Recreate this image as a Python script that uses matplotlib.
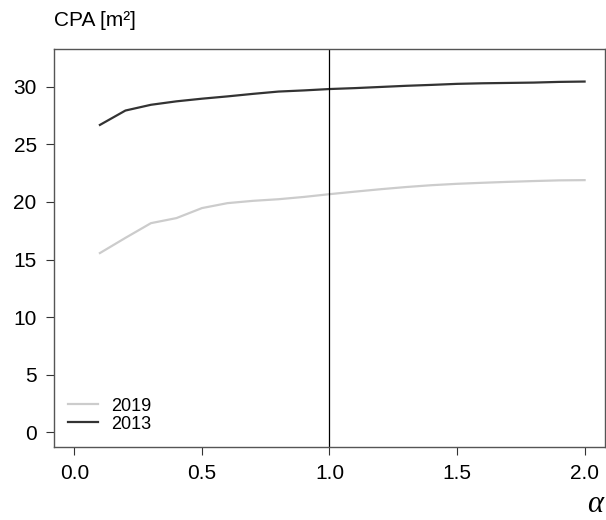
import numpy as np
import matplotlib.pyplot as plt

plt.rcParams['font.family'] = ['Liberation Sans', 'DejaVu Sans']

# === DATA ===
alpha = [0.1, 0.2, 0.3, 0.4, 0.5, 0.6, 0.7, 0.8, 0.9, 1.0,
         1.1, 1.2, 1.3, 1.4, 1.5, 1.6, 1.7, 1.8, 1.9, 2.0]
cpa_2013 = [26.7, 27.95, 28.45, 28.75, 28.98, 29.18, 29.4, 29.6, 29.7, 29.82,
            29.9, 30.0, 30.1, 30.18, 30.27, 30.32, 30.35, 30.38, 30.44, 30.47]
cpa_2019 = [15.56, 16.88, 18.16, 18.6, 19.47, 19.9, 20.1, 20.24, 20.44, 20.68,
            20.9, 21.11, 21.3, 21.46, 21.58, 21.67, 21.75, 21.82, 21.88, 21.9]
x_ticks = [0.0, 0.5, 1.0, 1.5, 2.0]
y_ticks = [0, 5, 10, 15, 20, 25, 30]

# === PLOT ===
fig = plt.figure(figsize=(6.06, 5.20), dpi=100)
ax = fig.add_axes([54 / 606, 1 - 447 / 520, 551 / 606, 398 / 520])

ax.plot(alpha, cpa_2019, color="#cccccc", lw=1.6, label="2019")
ax.plot(alpha, cpa_2013, color="#333333", lw=1.6, label="2013")
ax.axvline(1.0, color="black", lw=0.9)

ax.set_xlim(-0.08, 2.08)
ax.set_ylim(-1.3, 33.3)
ax.set_xticks(x_ticks)
ax.set_xticklabels([f"{t:.1f}" for t in x_ticks])
ax.set_yticks(y_ticks)
ax.tick_params(labelsize=15, length=6, width=0.8, color="#333333", pad=6.5)
for s in ax.spines.values():
    s.set_color("#555555")
    s.set_linewidth(1.0)

ax.legend(loc="lower left", frameon=False, fontsize=13, handlelength=1.66,
          handletextpad=0.72, labelspacing=0.05, borderaxespad=0.4,
          borderpad=0.4)

fig.text(54 / 606, 1 - 21 / 520, "CPA [m²]", fontsize=15, va="center", ha="left")
fig.text(595 / 606, 1 - 505 / 520, "α", fontsize=22, va="center", ha="center",
         family="Liberation Serif", style="italic")

fig.savefig("out.png", dpi=100)
